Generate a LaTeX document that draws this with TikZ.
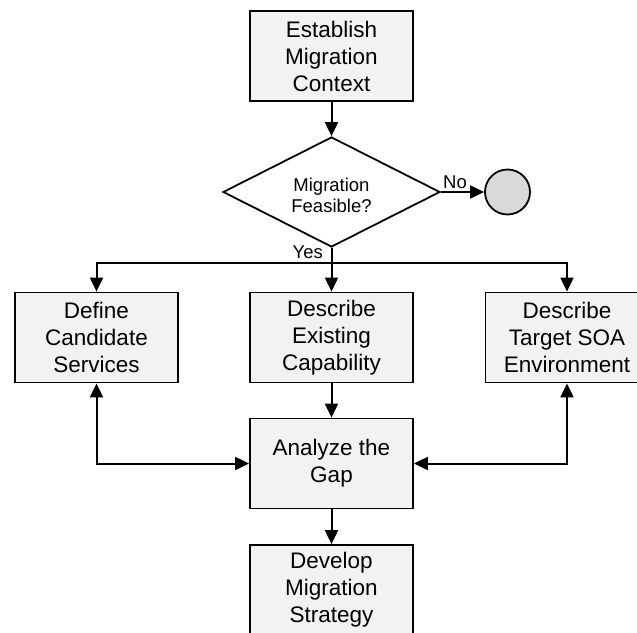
\documentclass[tikz,border=0pt]{standalone}
\usepackage{fontspec}
\setmainfont{Liberation Sans}
\usetikzlibrary{shapes.geometric,arrows.meta}
\definecolor{boxfill}{HTML}{F2F2F2}
\definecolor{endfill}{HTML}{D9D9D9}
\tikzset{
  stepbox/.style={draw=black, line width=1.8pt, fill=boxfill, rectangle,
    minimum width=163pt, minimum height=90pt, inner sep=0pt, align=center,
    font=\fontsize{22.5}{27}\selectfont},
  decision/.style={draw=black, line width=1.8pt, fill=white, diamond,
    minimum width=217pt, minimum height=110pt, inner sep=0pt, align=center,
    font=\fontsize{18.5}{21}\selectfont},
  terminal/.style={draw=black, line width=1.8pt, fill=endfill, circle,
    minimum size=45pt, inner sep=0pt},
  flow/.style={line width=2pt, -{Triangle[length=14pt,width=13pt]}},
  biflow/.style={line width=2pt, {Triangle[length=14pt,width=13pt]}-{Triangle[length=14pt,width=13pt]}},
  edgelabel/.style={font=\fontsize{18.5}{21}\selectfont, inner sep=0pt}
}
\begin{document}
\begin{tikzpicture}[x=1pt,y=-1pt]
\useasboundingbox (0,0) rectangle (637,632);
\clip (0,0) rectangle (637,632);

% process steps
\node[stepbox] (est) at (331.5,56) {Establish\\Migration\\Context};
\node[decision] (dec) at (331.5,192) {};
\node[font=\fontsize{18.5}{21}\selectfont, align=center, inner sep=0pt]
  (dectext) at (331.5,195) {Migration\\Feasible?};
\node[terminal] (stop) at (507.5,192) {};
\node[stepbox] (def) at (96.5,337.5) {Define\\Candidate\\Services};
\node[stepbox] (exi) at (331.5,337.5) {Describe\\Existing\\Capability};
\node[stepbox] (tgt) at (567,337.5) {Describe\\Target SOA\\Environment};
\node[stepbox] (gap) at (331.5,463.5) {Analyze the\\Gap};
\node[stepbox] (dev) at (331.5,590) {Develop\\Migration\\Strategy};

% branch point below the decision
\coordinate (br) at (331.5,263);

% connectors
\draw[flow] (est.south) -- (dec.north);
\draw[flow] (dec.east) -- (stop.west);
\node[edgelabel, anchor=base west] (nolbl) at (443,188) {No};
\draw[flow] (dec.south) -- (exi.north);
\node[edgelabel, anchor=base east] (yeslbl) at (323,258) {Yes};
\draw[flow] (br) -| (def.north);
\draw[flow] (br) -| (tgt.north);
\draw[flow] (exi.south) -- (gap.north);
\draw[biflow] (def.south) |- (gap.west);
\draw[biflow] (tgt.south) |- (gap.east);
\draw[flow] (gap.south) -- (dev.north);
\end{tikzpicture}
\end{document}
